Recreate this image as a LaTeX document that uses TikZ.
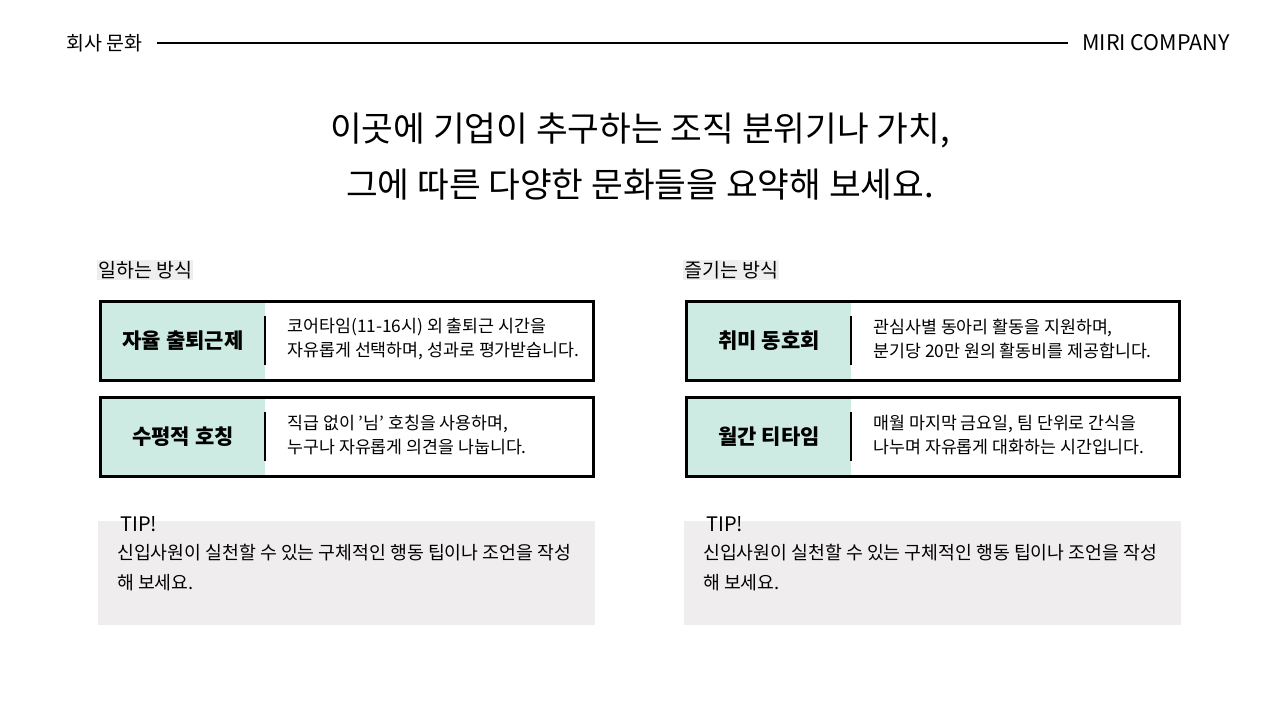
\documentclass[tikz,border=0pt]{standalone}
\usepackage{fontspec}
\setmainfont{Noto Sans CJK KR}
\definecolor{mint}{HTML}{CDEBE2}
\definecolor{tipgray}{HTML}{EFEDEE}
\definecolor{headgray}{HTML}{EEEEEE}
\tikzset{
  x=1pt,y=-1pt,
  outerbox/.style={draw=black,line width=3pt,fill=white},
  keyfill/.style={fill=mint,draw=none},
  keytxt/.style={font=\fontsize{21}{24}\selectfont\bfseries,anchor=center},
  desctxt/.style={font=\fontsize{17.3}{24}\selectfont,anchor=west,align=left},
  headtxt/.style={font=\fontsize{19.5}{22}\selectfont,anchor=west,fill=headgray,inner sep=1pt},
  tiptxt/.style={font=\fontsize{18.3}{30}\selectfont,anchor=north west,align=left},
}
\begin{document}
\begin{tikzpicture}
\useasboundingbox (0,0) rectangle (1280,720);
\fill[white] (0,0) rectangle (1280,720);
% header
\node[anchor=west,font=\fontsize{19.5}{20}\selectfont,inner sep=0] (hl) at (66,43) {회사 문화};
\node[anchor=east,font=\fontsize{21.5}{22}\selectfont,inner sep=0] (hr) at (1230,43) {MIRI COMPANY};
\draw[line width=1.3pt] ([xshift=14pt]hl.east) -- ([xshift=-14pt]hr.west);
% title
\node[font=\fontsize{34.5}{56}\selectfont,align=center] (title) at (640,157) {이곳에 기업이 추구하는 조직 분위기나 가치,\\그에 따른 다양한 문화들을 요약해 보세요.};
% columns
\foreach \ox/\head/\ka/\da/\kb/\db [count=\i] in {
  0/일하는 방식/자율 출퇴근제/{코어타임(11-16시) 외 출퇴근 시간을\\자유롭게 선택하며, 성과로 평가받습니다.}/수평적 호칭/{직급 없이 {\char"27}님{\char"27} 호칭을 사용하며,\\누구나 자유롭게 의견을 나눕니다.},
  586/즐기는 방식/취미 동호회/{관심사별 동아리 활동을 지원하며,\\분기당 20만 원의 활동비를 제공합니다.}/월간 티타임/{매월 마지막 금요일, 팀 단위로 간식을\\나누며 자유롭게 대화하는 시간입니다.}}{
  \begin{scope}[xshift=\ox]
  \node[headtxt] (head\i) at (97,270) {\head};
  \foreach \y/\k/\d [count=\j] in {300/\ka/\da, 396/\kb/\db}{
    \draw[outerbox] (100.5,\y+1.5) rectangle (593.5,\y+80.5);
    \fill[keyfill] (102,\y+3) rectangle (265,\y+79);
    \node[keytxt] (k\i\j) at (183,\y+41) {\k};
    \draw[line width=1.5pt] (265,\y+16) -- (265,\y+65);
    \node[desctxt] (d\i\j) at (284,\y+39) {\d};
  }
  \fill[tipgray] (98,521) rectangle (595,625);
  \node[anchor=west,font=\fontsize{20}{20}\selectfont,inner sep=0] (tip\i) at (120,524) {TIP!};
  \node[tiptxt,inner sep=0] (tipb\i) at (117,544) {신입사원이 실천할 수 있는 구체적인 행동 팁이나 조언을 작성\\해 보세요.};
  \end{scope}
}
\end{tikzpicture}
\end{document}
